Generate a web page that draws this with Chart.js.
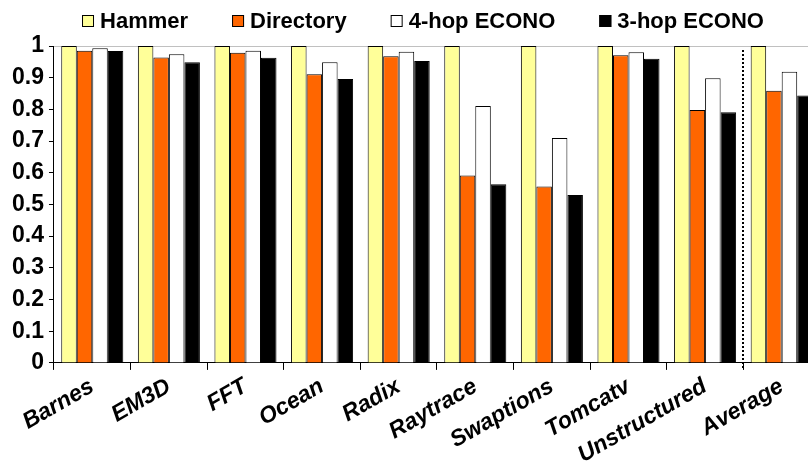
<!DOCTYPE html>
<html>
<head>
<meta charset="utf-8">
<script src="https://cdn.jsdelivr.net/npm/chart.js@4"></script>
<style>
  html, body { margin: 0; padding: 0; background: #fff; overflow: hidden; }
  #wrap { width: 808px; height: 465px; overflow: hidden; position: relative; }
  #box { width: 820px; height: 472px; position: absolute; left: 0; top: 0; }
</style>
</head>
<body>
<div id="wrap"><div id="box"><canvas id="myChart"></canvas></div></div>
<script>
// benchmark names and normalised values
var categories = ['Barnes', 'EM3D', 'FFT', 'Ocean', 'Radix', 'Raytrace', 'Swaptions', 'Tomcatv', 'Unstructured', 'Average'];
var hammer    = [1, 1, 1, 1, 1, 1, 1, 1, 1, 1];
var directory = [0.985, 0.964, 0.979, 0.911, 0.968, 0.591, 0.557, 0.971, 0.798, 0.859];
var econo4    = [0.993, 0.974, 0.985, 0.949, 0.982, 0.811, 0.710, 0.980, 0.898, 0.919];
var econo3    = [0.984, 0.949, 0.963, 0.896, 0.953, 0.564, 0.530, 0.960, 0.791, 0.844];
var yTicks    = [0, 0.1, 0.2, 0.3, 0.4, 0.5, 0.6, 0.7, 0.8, 0.9, 1];

var FONT = 'Arial, "Liberation Sans", sans-serif';

// dotted separator before the Average group
var separator = {
  id: 'separator',
  afterDatasetsDraw: function(chart) {
    var x = chart.scales.x;
    var area = chart.chartArea;
    var px = Math.round((x.getPixelForValue(8) + x.getPixelForValue(9)) / 2);
    var ctx = chart.ctx;
    ctx.save();
    ctx.strokeStyle = '#000';
    ctx.lineWidth = 2;
    ctx.setLineDash([2, 2]);
    ctx.beginPath();
    ctx.moveTo(px, area.top + 4);
    ctx.lineTo(px, area.bottom + 7);
    ctx.stroke();
    ctx.restore();
  }
};

// legend drawn by hand so the spacing can follow the original
var topLegend = {
  id: 'topLegend',
  afterDraw: function(chart) {
    var ctx = chart.ctx;
    var sets = chart.data.datasets;
    var box = 12, gapText = 6, gapItem = 44, centerX = 423, midY = 21;
    ctx.save();
    ctx.font = 'bold 22px ' + FONT;
    ctx.textBaseline = 'middle';
    var widths = sets.map(function(d) { return ctx.measureText(d.label).width; });
    var total = 0;
    widths.forEach(function(w) { total += box + gapText + w; });
    total += gapItem * (sets.length - 1);
    var x = centerX - total / 2;
    sets.forEach(function(d, i) {
      ctx.fillStyle = d.backgroundColor;
      ctx.fillRect(x, midY - box / 2, box, box);
      ctx.strokeStyle = '#000';
      ctx.lineWidth = 1;
      ctx.strokeRect(x + 0.5, midY - box / 2 + 0.5, box - 1, box - 1);
      ctx.fillStyle = '#000';
      ctx.fillText(d.label, x + box + gapText, midY + 1);
      x += box + gapText + widths[i] + gapItem;
    });
    ctx.restore();
  }
};

var ctx = document.getElementById('myChart').getContext('2d');
var myChart = new Chart(ctx, {
  type: 'bar',
  data: {
    labels: categories,
    datasets: [
      { label: 'Hammer', data: hammer, backgroundColor: '#FFFF99' },
      { label: 'Directory', data: directory, backgroundColor: '#FF6600' },
      { label: '4-hop ECONO', data: econo4, backgroundColor: '#FFFFFF' },
      { label: '3-hop ECONO', data: econo3, backgroundColor: '#000000' }
    ]
  },
  options: {
    responsive: true,
    maintainAspectRatio: false,
    animation: false,
    devicePixelRatio: 1,
    datasets: {
      bar: {
        borderColor: '#000',
        borderWidth: 1,
        borderSkipped: 'bottom',
        categoryPercentage: 0.81,
        barPercentage: 1.0
      }
    },
    layout: { padding: { left: 7, right: 0, top: 46, bottom: 0 } },
    plugins: {
      tooltip: { enabled: false },
      legend: { display: false }
    },
    scales: {
      x: {
        grid: {
          offset: true,
          drawOnChartArea: false,
          tickLength: 7,
          tickColor: '#000'
        },
        border: { color: '#000', width: 1 },
        ticks: {
          color: '#000',
          font: { family: FONT, size: 23, weight: 'bold', style: 'italic' },
          maxRotation: 30,
          minRotation: 30,
          padding: 3,
          labelOffset: 0
        }
      },
      y: {
        min: 0,
        max: 1,
        afterBuildTicks: function(axis) {
          axis.ticks = yTicks.map(function(v) { return { value: v }; });
        },
        grid: {
          color: function(c) { return c.tick && c.tick.value === 1 ? '#c0c0c0' : 'rgba(0,0,0,0)'; },
          tickColor: '#000',
          tickLength: 5
        },
        border: { color: '#000', width: 1 },
        ticks: {
          color: '#000',
          padding: 5,
          font: { family: FONT, size: 23, weight: 'bold' },
          callback: function(v) { return String(Math.round(v * 10) / 10); }
        }
      }
    }
  },
  plugins: [separator, topLegend]
});
</script>
</body>
</html>
